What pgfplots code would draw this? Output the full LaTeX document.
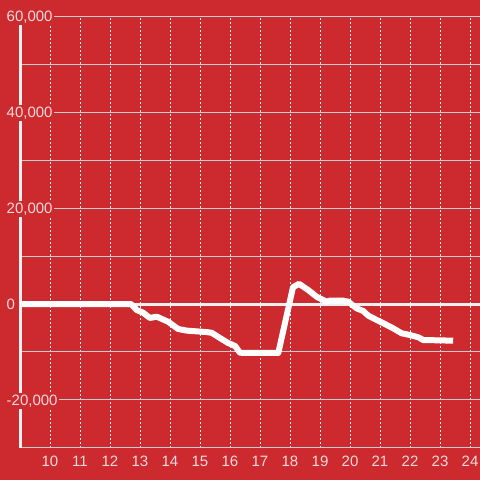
\documentclass[border=0pt]{standalone}
\usepackage{fontspec}
\setmainfont{Liberation Sans}
\usepackage{pgfplots}
\pgfplotsset{compat=1.18}
\definecolor{bgred}{RGB}{204,42,46}
\definecolor{gridgrey}{RGB}{205,205,205}
\definecolor{lbl}{RGB}{242,218,218}
\definecolor{zline}{RGB}{240,240,240}
\begin{document}
\begin{tikzpicture}[x=1pt,y=1pt]
\fill[bgred] (0,0) rectangle (480,480);
\begin{axis}[
  at={(20pt,32pt)}, anchor=south west,
  scale only axis, width=460pt, height=432pt,
  xmin=9, xmax=24.3333, ymin=-30000, ymax=60000,
  axis x line=bottom, axis y line=left,
  x axis line style={draw=gridgrey, line width=1pt, -},
  y axis line style={draw=zline, line width=3pt, -},
  xtick={10,11,...,24},
  xticklabels={10,11,12,13,14,15,16,17,18,19,20,21,22,23,24},
  ytick={-20000,0,20000,40000,60000},
  yticklabels={{-20,000},{0},{20,000},{40,000},{60,000}},
  minor ytick={-10000,10000,30000,50000},
  scaled y ticks=false,
  major tick length=0pt, minor tick length=0pt,
  xmajorgrids, ymajorgrids, yminorgrids,
  major x grid style={draw=zline, line width=1pt, dash pattern=on 2pt off 2pt},
  major y grid style={draw=gridgrey, line width=1pt},
  minor y grid style={draw=gridgrey, line width=1pt},
  tick label style={font=\fontsize{15}{17}\selectfont, text=lbl},
  xticklabel style={anchor=center, yshift=-13.3pt},
  yticklabel style={anchor=base west, xshift=-15pt, yshift=-5.4pt, fill=bgred, inner sep=1.5pt},
]
\addplot[draw=zline, line width=3pt] coordinates {(8.9,0) (24.4,0)};
\addplot[draw=white, line width=6pt, line join=round] coordinates {
(9,0) (12.7,0) (12.89,-1250) (13.1,-1800) (13.33,-2900) (13.56,-2650)
(13.94,-3700) (14.27,-5200) (14.56,-5550) (15.22,-5850) (15.39,-6000)
(15.67,-7100) (15.93,-8100) (16.17,-8750) (16.33,-10150) (16.67,-10200)
(17.61,-10200) (18.1,3500) (18.3,4200) (18.61,2900) (18.89,1500)
(19.22,480) (19.33,700) (19.77,700) (19.94,480) (20.22,-900) (20.44,-1460)
(20.61,-2430) (20.89,-3330) (21.11,-4000) (21.44,-5070) (21.72,-6100)
(22.0,-6460) (22.28,-6940) (22.44,-7500) (23.44,-7640)
};
\end{axis}
\pgfresetboundingbox
\path[use as bounding box] (0,0) rectangle (480,480);
\end{tikzpicture}
\end{document}
